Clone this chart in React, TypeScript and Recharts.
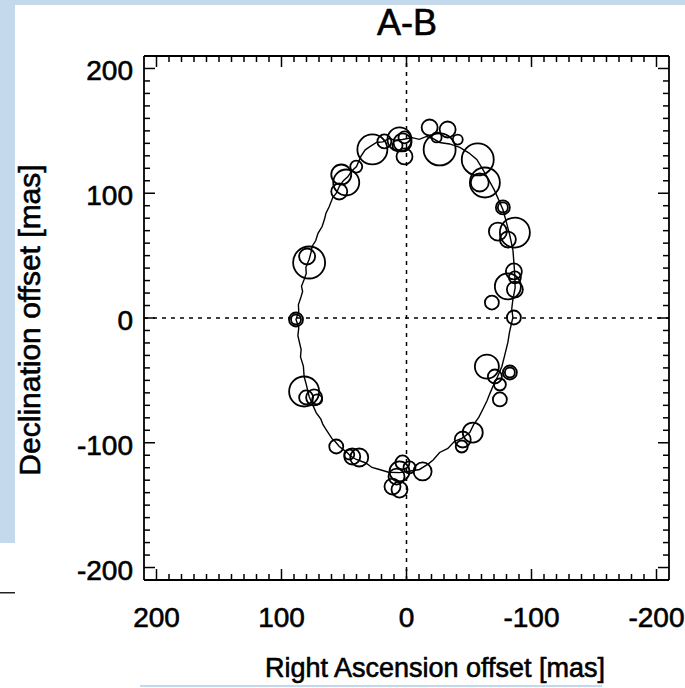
import React from 'react';
import { ScatterChart, Scatter, XAxis, YAxis, ReferenceLine } from 'recharts';

// orbit model (RA offset, Dec offset) in mas
const orbitRa = [
  3.2, 9, 14, 19, 24, 29, 33, 36.5, 40, 44, 47, 50.5, 53.8, 56, 59, 61.8, 64.5, 65.5, 67.5, 70.8,
  72.6, 75.5, 76.4, 77.9, 80.5, 80.2, 81.9, 84, 83.1, 84.3, 86.5, 86.2, 88.4, 86.2, 86.9, 84.3,
  84.8, 82.5, 81.9, 80.1, 77.9, 75.1, 72.3, 68.5, 66.9, 64.3, 59.6, 56.9, 53.8, 47.9, 44.8, 40.2,
  32.5, 27.6, 21.7, 14.3, 5.6, -2.1, -10.4, -17.5, -21.3, -26.5, -33.1, -38.4, -44.6, -50.6,
  -53.9, -57.8, -61, -64.5, -66.6, -69.1, -72.8, -76.3, -78.4, -81.1, -82.4, -85.1, -84.2, -85.1,
  -86.9, -86.7, -85.9, -85.1, -82.4, -79.5, -77.1, -74.7, -70.3, -64.3, -60.2, -56.2, -49.8,
  -42.6, -34.5, -26.5, -21, -16.1, -10.2, -4.5, 3.2,
];
const orbitDec = [
  143.1, 142.5, 143.8, 141.2, 140.7, 137.5, 134.8, 129.5, 121.4, 117.6, 113.2, 110.1, 105.4, 100.2,
  96.5, 89.4, 83.7, 79.5, 73.3, 67.8, 62.1, 57.3, 52.5, 46.9, 40.6, 35.7, 30.9, 25.4, 21.2, 17.2,
  10.6, 5.5, -1.2, -7.8, -14.1, -25.3, -31.2, -38.5, -46.9, -53.6, -62.9, -69.5, -75.8, -81.1,
  -85.3, -89.4, -96.7, -99.2, -103, -107.5, -110.6, -113.4, -116.2, -119.8, -121.4, -123.6,
  -123.9, -122.8, -121.4, -116.9, -113.8, -107.8, -104.5, -98.8, -96.3, -91.8, -85.1, -79.7,
  -73.3, -66.2, -60.8, -54.9, -47.1, -38.9, -30.6, -19.6, -11.3, 0.4, 7.5, 14.8, 24.1, 33.3,
  44.8, 54.9, 67.3, 78.2, 87, 92.6, 102.5, 113.4, 120.6, 127.1, 132.4, 136.7, 139.5, 140.7,
  143.9, 145.5, 143.2, 144.6, 143.1,
];

// measured positions and their error circles (radius in mas)
const obsRa = [
  5.6, 3.2, 1.6, 7.2, 27.3, 17.7, 1.6, -18.5, -32.9, -26.5, -24.1, -57.0, -62.7, -58.6, 48.2, 52.2,
  53.8, 40.2, 77.9, 79.5, -77.1, -77.1, -73.1, -86.7, -81.1, -85.9, -86.7, -81.1, -86.7, -68.3,
  -85.9, -64.3, -82.7, -82.7, -70.7, -74.7, -74.7, -53.0, -45.0, -44.2, 88.4, 88.4, 81.9, 80.3,
  73.9, 71.5, 56.2, 43.4, 37.8, 45.8, 5.6, 8.0, 11.2, 5.6, 3.2, -12.9, -2.4, -41.0,
];
const obsDec = [
  143.1, 140.7, 144.7, 138.3, 135.1, 141.5, 129.5, 152.7, 151.1, 135.1, 144.7, 127.1, 108.6, 108.6,
  108.6, 115.0, 101.4, 121.4, 44.5, 49.3, 88.6, 88.6, 69.3, 68.5, 62.9, 37.3, 32.5, 25.3, 22.8,
  12.4, 0.4, -38.9, -43.7, -43.7, -46.9, -53.3, -65.3, -91.8, -97.4, -103.0, -1.2, -1.2, -58.9,
  -63.7, -63.7, -65.3, -103.0, -111.0, -111.8, -109.4, -123.0, -127.1, -135.1, -137.5, -115.8,
  -123.0, -119.8, 143.0,
];
const obsRadius = [
  9.6, 7.2, 4.8, 4.0, 12.0, 5.6, 6.4, 6.4, 6.4, 12.8, 4.0, 12.8, 12.0, 7.2, 10.4, 8.0, 6.4, 4.8,
  12.8, 6.4, 5.6, 4.0, 7.2, 12.0, 6.4, 6.4, 4.8, 10.4, 6.4, 5.6, 5.6, 9.6, 5.6, 4.0, 5.6, 4.8,
  5.6, 8.0, 6.4, 4.8, 5.6, 4.0, 12.0, 5.6, 6.4, 4.0, 5.6, 6.4, 7.2, 4.0, 8.0, 6.4, 6.4, 6.4, 5.6,
  7.2, 4.8, 4.0,
];

const axisTicks = [
  -200, -190, -180, -170, -160, -150, -140, -130, -120, -110, -100, -90, -80, -70, -60, -50, -40,
  -30, -20, -10, 0, 10, 20, 30, 40, 50, 60, 70, 80, 90, 100, 110, 120, 130, 140, 150, 160, 170,
  180, 190, 200,
];
const axisDomain = [-210, 210];

const orbitData = orbitRa.map((x, i) => ({ x, y: orbitDec[i] }));
const obsData = obsRa.map((x, i) => ({ x, y: obsDec[i], r: obsRadius[i] }));

const W = 685;
const H = 688;
// plot box: x 144..669, y 56..580 (each axis takes 1px)
const margin = { top: 55, right: 15, bottom: 107, left: 143 };
const pxPerMas = (W - 144 - 16) / (axisDomain[1] - axisDomain[0]);

const FONT = '"Liberation Sans", Arial, Helvetica, sans-serif';
const MAJOR = 11;
const MINOR = 6;
const isMajor = (v: number) => v % 100 === 0;

// the reference lettering is a little heavier than a plain regular face
const heavy = { stroke: '#000', strokeWidth: 0.6 };

const BottomTick = ({ x, y, payload }: any) => {
  const v = payload.value;
  return (
    <g>
      <line x1={x} y1={y} x2={x} y2={y - (isMajor(v) ? MAJOR : MINOR)} stroke="#000" strokeWidth={1.5} />
      {isMajor(v) && (
        <text x={x} y={y + 47} textAnchor="middle" fontSize={28} fontFamily={FONT} fill="#000" {...heavy}>
          {v}
        </text>
      )}
    </g>
  );
};

const TopTick = ({ x, y, payload }: any) => (
  <line x1={x} y1={y} x2={x} y2={y + (isMajor(payload.value) ? MAJOR : MINOR)} stroke="#000" strokeWidth={1.5} />
);

const LeftTick = ({ x, y, payload }: any) => {
  const v = payload.value;
  return (
    <g>
      <line x1={x} y1={y} x2={x + (isMajor(v) ? MAJOR : MINOR)} y2={y} stroke="#000" strokeWidth={1.5} />
      {isMajor(v) && (
        <text x={x - 11} y={y + 12} textAnchor="end" fontSize={28} fontFamily={FONT} fill="#000" {...heavy}>
          {v}
        </text>
      )}
    </g>
  );
};

const RightTick = ({ x, y, payload }: any) => (
  <line x1={x} y1={y} x2={x - (isMajor(payload.value) ? MAJOR : MINOR)} y2={y} stroke="#000" strokeWidth={1.5} />
);

const ErrorCircle = (props: any) => (
  <circle
    cx={props.cx}
    cy={props.cy}
    r={props.payload.r * pxPerMas}
    fill="none"
    stroke="#000"
    strokeWidth={1.8}
  />
);

const NoMarker = () => <g />;

const axisLine = { stroke: '#000', strokeWidth: 1.8 };

export default function App() {
  return (
    <div style={{ position: 'absolute', left: 0, top: 0, width: W, height: H, background: '#fff' }}>
      <svg width={W} height={H} style={{ position: 'absolute', left: 0, top: 0 }}>
        <rect x={0} y={0} width={W} height={5} fill="#c5d9ec" />
        <rect x={0} y={0} width={15} height={543} fill="#c5d9ec" />
        <rect x={0} y={592} width={15} height={1.5} fill="#222" />
        <rect x={140} y={685} width={462} height={2} fill="#c5d9ec" />
      </svg>
      <div style={{ position: 'absolute', left: 0, top: 0 }}>
        <ScatterChart width={W} height={H} margin={margin}>
          <XAxis
            xAxisId="bottom"
            dataKey="x"
            type="number"
            orientation="bottom"
            domain={axisDomain}
            allowDataOverflow
            reversed
            ticks={axisTicks}
            interval={0}
            height={1}
            tickSize={0}
            tickMargin={0}
            tickLine={false}
            axisLine={axisLine}
            tick={BottomTick}
          />
          <XAxis
            xAxisId="top"
            dataKey="x"
            type="number"
            orientation="top"
            domain={axisDomain}
            allowDataOverflow
            reversed
            ticks={axisTicks}
            interval={0}
            height={1}
            tickSize={0}
            tickMargin={0}
            tickLine={false}
            axisLine={axisLine}
            tick={TopTick}
          />
          <YAxis
            yAxisId="left"
            dataKey="y"
            type="number"
            orientation="left"
            domain={axisDomain}
            allowDataOverflow
            ticks={axisTicks}
            interval={0}
            width={1}
            tickSize={0}
            tickMargin={0}
            tickLine={false}
            axisLine={axisLine}
            tick={LeftTick}
          />
          <YAxis
            yAxisId="right"
            dataKey="y"
            type="number"
            orientation="right"
            domain={axisDomain}
            allowDataOverflow
            ticks={axisTicks}
            interval={0}
            width={1}
            tickSize={0}
            tickMargin={0}
            tickLine={false}
            axisLine={axisLine}
            tick={RightTick}
          />
          <ReferenceLine xAxisId="bottom" yAxisId="left" x={0} stroke="#000" strokeWidth={1.5} strokeDasharray="4 5" />
          <ReferenceLine xAxisId="bottom" yAxisId="left" y={0} stroke="#000" strokeWidth={1.5} strokeDasharray="4 5" />
          <Scatter
            xAxisId="bottom"
            yAxisId="left"
            data={orbitData}
            line={{ stroke: '#000', strokeWidth: 1.4 }}
            lineType="joint"
            shape={NoMarker}
            isAnimationActive={false}
          />
          <Scatter
            xAxisId="bottom"
            yAxisId="left"
            data={obsData}
            shape={ErrorCircle}
            isAnimationActive={false}
          />
        </ScatterChart>
      </div>
      <svg width={W} height={H} style={{ position: 'absolute', left: 0, top: 0, pointerEvents: 'none' }}>
        <text x={407} y={35} textAnchor="middle" fontSize={36} fontFamily={FONT} fill="#000" {...heavy}>
          A-B
        </text>
        <text x={435} y={677} textAnchor="middle" fontSize={27} fontFamily={FONT} fill="#000" {...heavy}>
          Right Ascension offset [mas]
        </text>
        <text
          transform="translate(40, 320) rotate(-90)"
          textAnchor="middle"
          fontSize={30}
          fontFamily={FONT}
          fill="#000"
          {...heavy}
        >
          Declination offset [mas]
        </text>
      </svg>
    </div>
  );
}
